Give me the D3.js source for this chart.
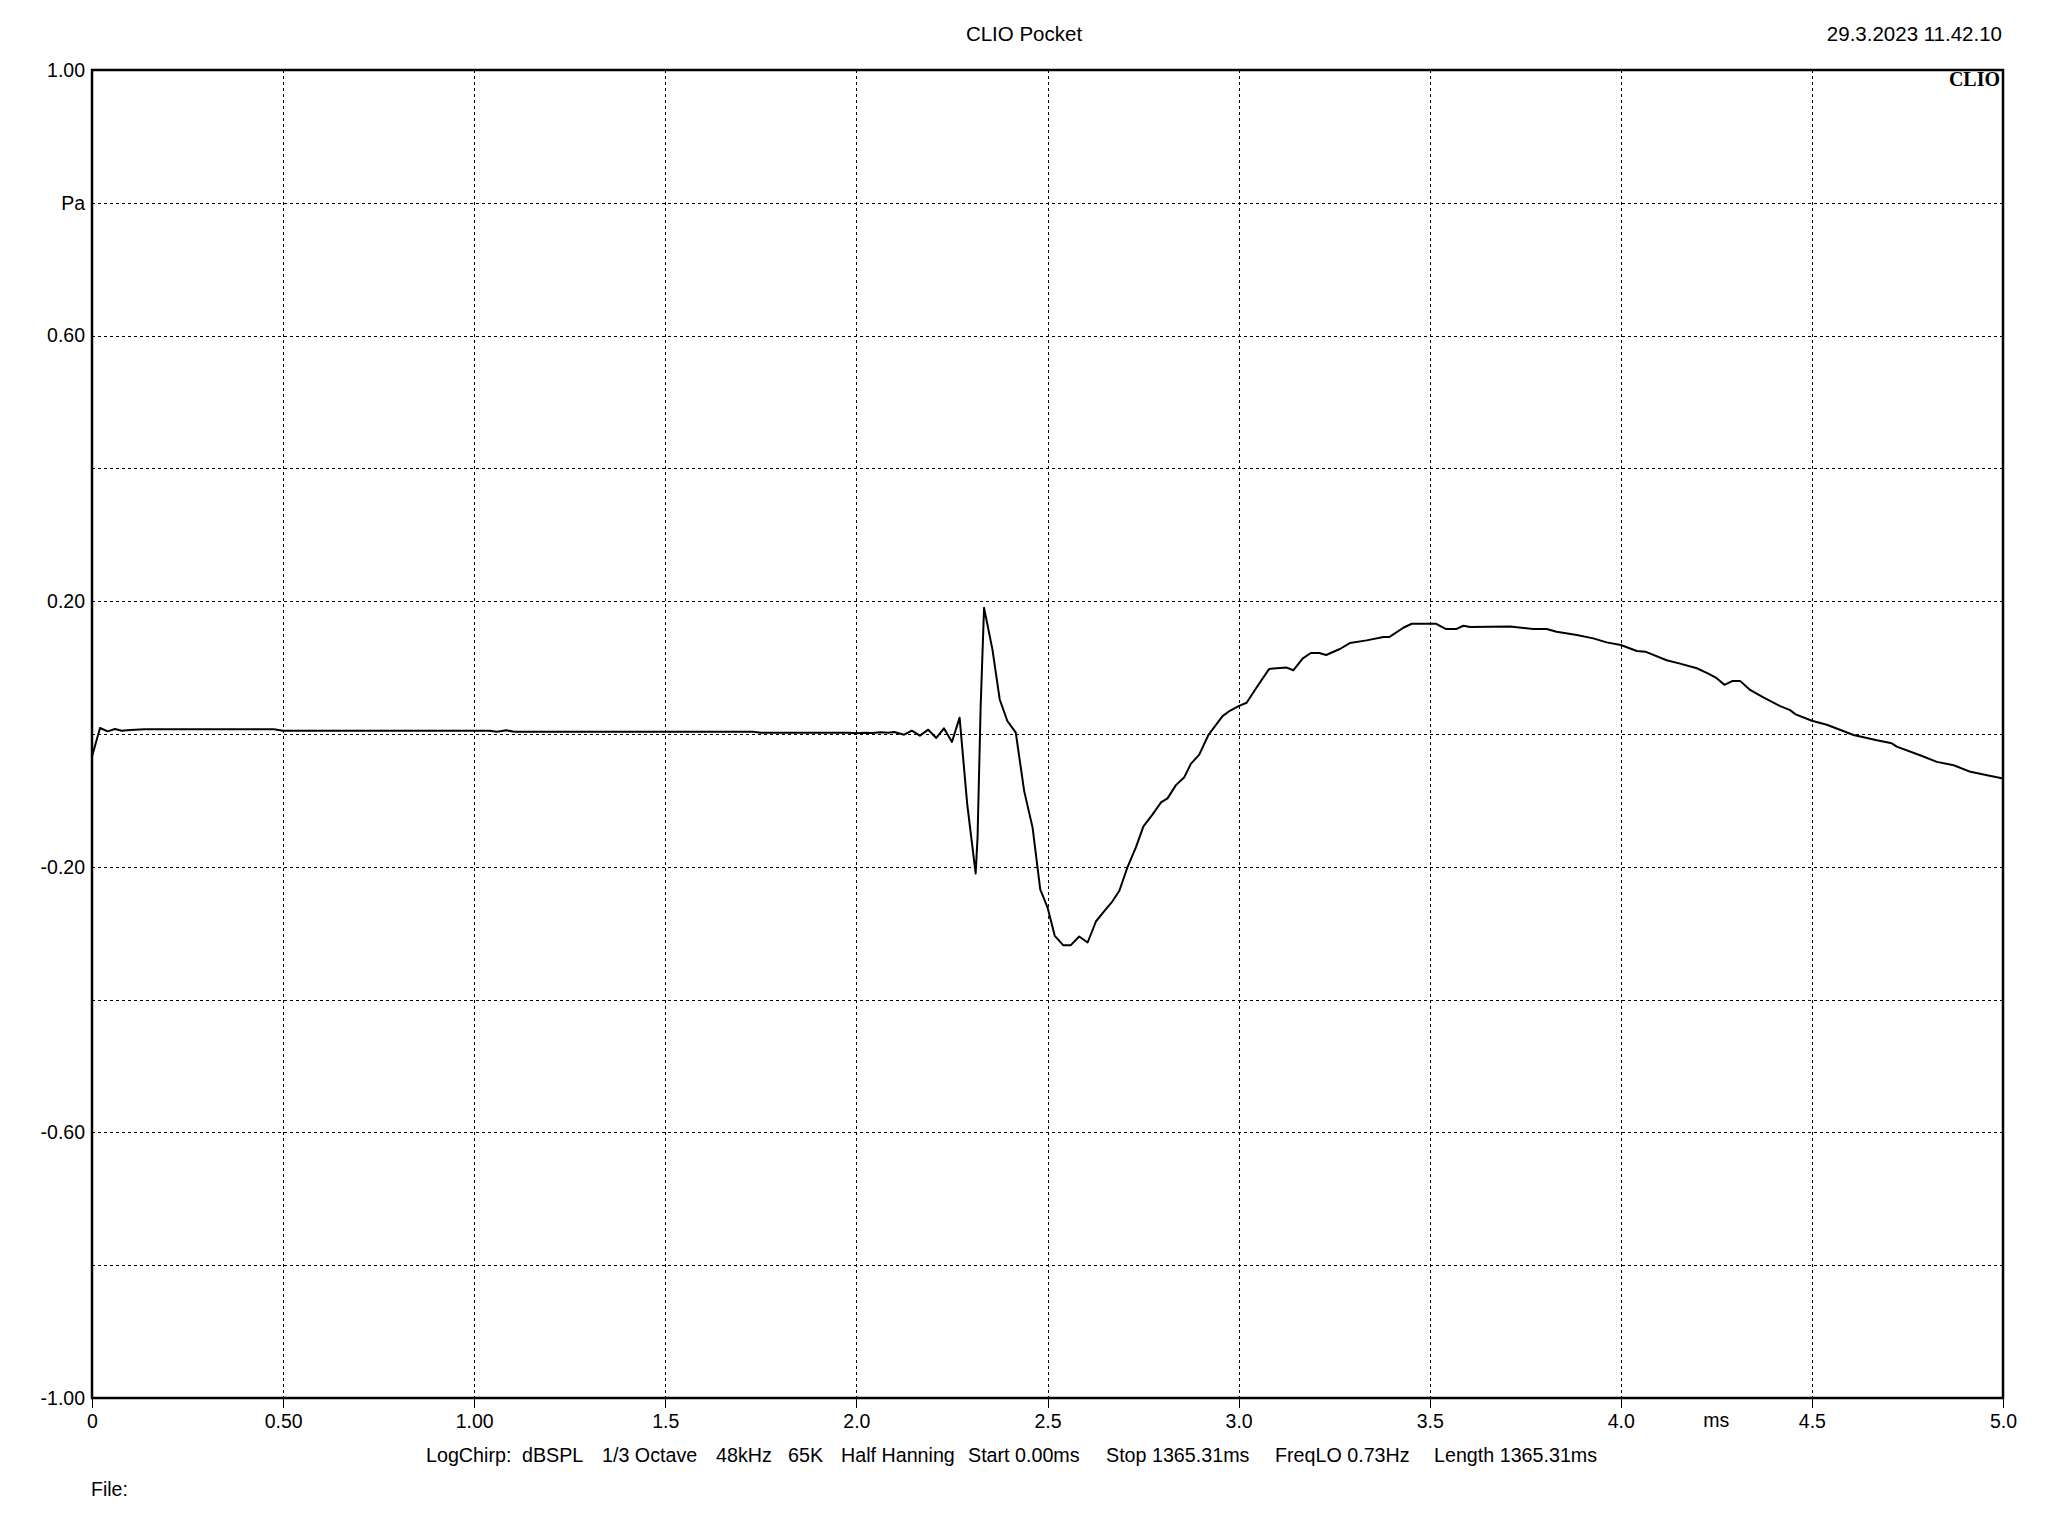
<!DOCTYPE html>
<html>
<head>
<meta charset="utf-8">
<script src="https://cdn.jsdelivr.net/npm/d3@7"></script>
<style>
  html, body { margin: 0; padding: 0; background: #fff; }
  svg { display: block; }
  text { font-family: Arial, "Liberation Sans", sans-serif; fill: #000; }
</style>
</head>
<body>
<script>
// ---- data (time in ms, pressure in Pa) ----
const times = [
  0, 0.021, 0.041, 0.06, 0.078, 0.1, 0.138, 0.476, 0.5, 1.039, 1.06, 1.084, 1.105, 1.73, 1.75, 1.98,
  2.0, 2.021, 2.042, 2.063, 2.083, 2.099, 2.125, 2.145, 2.166, 2.188, 2.209, 2.229, 2.25, 2.27, 2.29,
  2.312, 2.317, 2.321, 2.325, 2.328, 2.334, 2.356, 2.375, 2.395, 2.417, 2.439, 2.461, 2.481, 2.5,
  2.519, 2.541, 2.561, 2.583, 2.605, 2.627, 2.648, 2.67, 2.688, 2.709, 2.731, 2.751, 2.775, 2.797,
  2.814, 2.836, 2.858, 2.875, 2.897, 2.921, 2.958, 2.977, 3.0, 3.021, 3.047, 3.08, 3.126, 3.143,
  3.168, 3.189, 3.211, 3.229, 3.265, 3.291, 3.335, 3.379, 3.394, 3.431, 3.453, 3.517, 3.543, 3.569,
  3.588, 3.606, 3.71, 3.771, 3.806, 3.832, 3.885, 3.928, 3.963, 4.0, 4.042, 4.064, 4.12, 4.155,
  4.199, 4.229, 4.251, 4.271, 4.293, 4.312, 4.337, 4.373, 4.417, 4.443, 4.456, 4.5, 4.539, 4.609,
  4.67, 4.709, 4.722, 4.783, 4.827, 4.871, 4.915, 4.949, 5.0
];
const pressure = [
  -0.034, 0.009, 0.004, 0.0075, 0.005, 0.006, 0.007, 0.007, 0.005, 0.005, 0.0035, 0.0055, 0.0035, 0.0035, 0.002, 0.002,
  0.001, 0.002, 0.0015, 0.0025, 0.002, 0.003, -0.001, 0.005, -0.0025, 0.0065, -0.006, 0.0085, -0.012, 0.0246, -0.106,
  -0.21, -0.156, -0.058, 0.04, 0.09, 0.19, 0.127, 0.052, 0.0196, 0.002, -0.086, -0.141, -0.234, -0.261,
  -0.304, -0.318, -0.318, -0.305, -0.314, -0.282, -0.267, -0.252, -0.236, -0.201, -0.171, -0.139, -0.121, -0.103,
  -0.097, -0.077, -0.065, -0.045, -0.031, -0.0015, 0.027, 0.035, 0.042, 0.047, 0.07, 0.098, 0.1, 0.096,
  0.114, 0.122, 0.122, 0.119, 0.128, 0.137, 0.141, 0.146, 0.146, 0.16, 0.166, 0.166, 0.158, 0.158,
  0.163, 0.161, 0.162, 0.158, 0.158, 0.154, 0.149, 0.144, 0.138, 0.134, 0.125, 0.124, 0.111, 0.106,
  0.099, 0.091, 0.084, 0.074, 0.08, 0.08, 0.067, 0.055, 0.042, 0.036, 0.03, 0.02, 0.014, -0.0015,
  -0.0095, -0.014, -0.019, -0.032, -0.042, -0.047, -0.057, -0.061, -0.067
];
const xTickValues = [0, 0.5, 1.0, 1.5, 2.0, 2.5, 3.0, 3.5, 4.0, 4.5, 5.0];
const xTickLabels = ["0", "0.50", "1.00", "1.5", "2.0", "2.5", "3.0", "3.5", "4.0", "4.5", "5.0"];
const yTickValues = [1.0, 0.8, 0.6, 0.4, 0.2, 0.0, -0.2, -0.4, -0.6, -0.8, -1.0];
const yTickLabels = ["1.00", "Pa", "0.60", "", "0.20", "", "-0.20", "", "-0.60", "", "-1.00"];
const xUnit = "ms";
const xUnitAt = 4.25;
const titleText = "CLIO Pocket";
const dateText = "29.3.2023 11.42.10";
const footerParts = ["LogChirp:", "dBSPL", "1/3 Octave", "48kHz", "65K", "Half Hanning",
  "Start 0.00ms", "Stop 1365.31ms", "FreqLO 0.73Hz", "Length 1365.31ms"];
const footerX = [426, 522, 602, 716, 788, 841, 968, 1106, 1275, 1434];

// ---- layout ----
const W = 2048, H = 1536;
const L = 92, R = 2003, T = 70, B = 1398;

const svg = d3.select("body").append("svg").attr("width", W).attr("height", H);
svg.append("rect").attr("width", W).attr("height", H).attr("fill", "#fff");

const x = d3.scaleLinear().domain([0, 5]).range([L, R]);
const y = d3.scaleLinear().domain([-1, 1]).range([B, T]);

// grid
const grid = svg.append("g").attr("stroke", "#000").attr("stroke-width", 1)
  .attr("stroke-dasharray", "3,3").attr("shape-rendering", "crispEdges");
grid.selectAll("line.v").data(xTickValues.slice(1, -1)).join("line")
  .attr("x1", d => Math.round(x(d)) + 0.5).attr("x2", d => Math.round(x(d)) + 0.5)
  .attr("y1", T).attr("y2", B);
grid.selectAll("line.h").data(yTickValues.slice(1, -1)).join("line")
  .attr("x1", L).attr("x2", R)
  .attr("y1", d => Math.round(y(d)) + 0.5).attr("y2", d => Math.round(y(d)) + 0.5);

// x axis (ticks + labels)
const xAxis = d3.axisBottom(x).tickValues(xTickValues)
  .tickFormat((d, i) => xTickLabels[i]).tickSize(10).tickPadding(6);
const gx = svg.append("g").attr("transform", `translate(0,${B})`).call(xAxis);
gx.select(".domain").remove();
gx.selectAll(".tick line").attr("stroke", "#000").attr("stroke-width", 1).attr("shape-rendering", "crispEdges");
gx.selectAll(".tick text").attr("font-size", 19.5).attr("font-family", "Arial, 'Liberation Sans', sans-serif").attr("fill", "#000");
svg.append("text").attr("x", x(xUnitAt)).attr("y", 1427).attr("text-anchor", "middle")
  .attr("font-size", 19.5).text(xUnit);

// y axis labels
const yAxis = d3.axisLeft(y).tickValues(yTickValues)
  .tickFormat((d, i) => yTickLabels[i]).tickSize(0).tickPadding(7);
const gy = svg.append("g").attr("transform", `translate(${L},0)`).call(yAxis);
gy.select(".domain").remove();
gy.selectAll(".tick text").attr("font-size", 19.5).attr("font-family", "Arial, 'Liberation Sans', sans-serif").attr("fill", "#000");

// frame
svg.append("rect").attr("x", L).attr("y", T).attr("width", R - L).attr("height", B - T)
  .attr("fill", "none").attr("stroke", "#000").attr("stroke-width", 2.5);

// trace
const line = d3.line().x((d, i) => x(times[i])).y((d, i) => y(pressure[i]));
svg.append("path").datum(pressure).attr("d", line)
  .attr("fill", "none").attr("stroke", "#000").attr("stroke-width", 2)
  .attr("stroke-linejoin", "round");

// texts
svg.append("text").attr("x", 1024).attr("y", 41).attr("text-anchor", "middle")
  .attr("font-size", 20.5).text(titleText);
svg.append("text").attr("x", 2002).attr("y", 41).attr("text-anchor", "end")
  .attr("font-size", 20.5).text(dateText);
svg.append("text").attr("x", 2000).attr("y", 86).attr("text-anchor", "end")
  .attr("font-size", 20).attr("font-weight", "bold")
  .style("font-family", "'Liberation Serif', 'DejaVu Serif', serif").text("CLIO");

svg.append("g").selectAll("text").data(footerParts).join("text")
  .attr("x", (d, i) => footerX[i]).attr("y", 1462).attr("font-size", 19.7).text(d => d);
svg.append("text").attr("x", 91).attr("y", 1496).attr("font-size", 19.5).text("File:");
</script>
</body>
</html>
